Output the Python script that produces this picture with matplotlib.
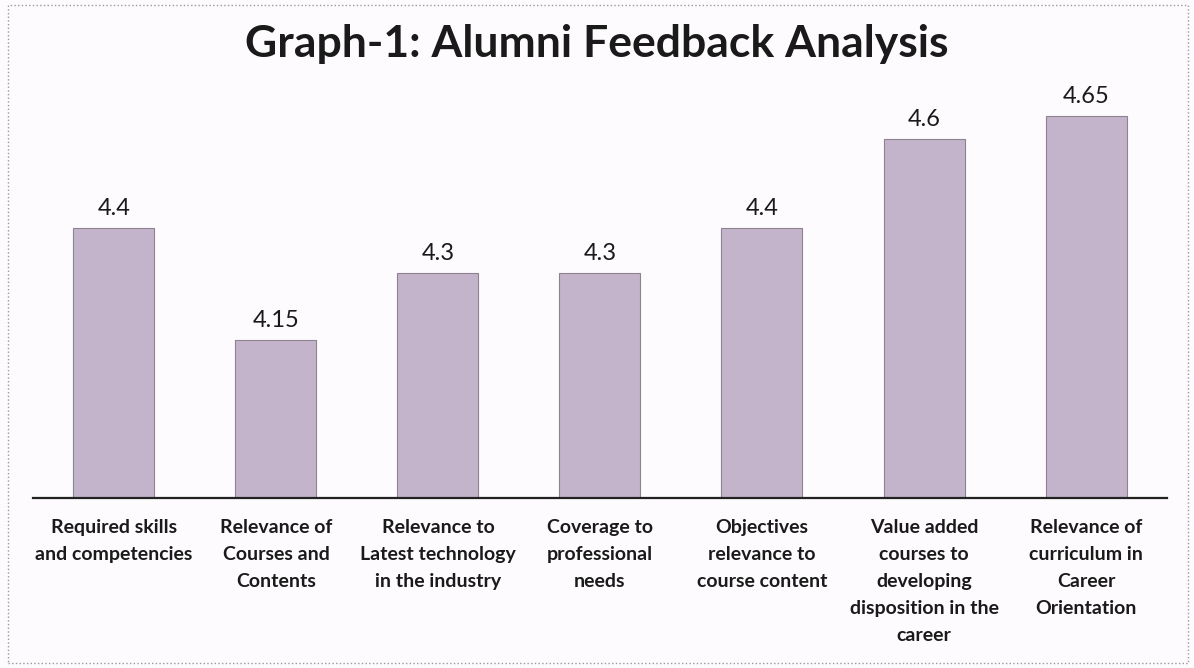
import matplotlib.pyplot as plt
from matplotlib.patches import Rectangle

# Dati
categories = [
    'Required skills\nand competencies',
    'Relevance of\nCourses and\nContents',
    'Relevance to\nLatest technology\nin the industry',
    'Coverage to\nprofessional\nneeds',
    'Objectives\nrelevance to\ncourse content',
    'Value added\ncourses to\ndeveloping\ndisposition in the\ncareer',
    'Relevance of\ncurriculum in\nCareer\nOrientation',
]
scores = [4.4, 4.15, 4.3, 4.3, 4.4, 4.6, 4.65]
score_labels = ['4.4', '4.15', '4.3', '4.3', '4.4', '4.6', '4.65']

plt.rcParams['font.family'] = ['Lato', 'DejaVu Sans']

fig = plt.figure(figsize=(11.94, 6.68), dpi=100)
fig.patch.set_facecolor('#fdfbfd')

# Cornice
fig.patches.append(Rectangle((0.007, 0.008), 0.988, 0.984, transform=fig.transFigure,
                             fill=False, edgecolor='#9a9a9a', linewidth=1, linestyle=':'))

ax = fig.add_axes([0.0276, 0.2545, 0.9498, 0.611])
ax.set_facecolor('#fdfbfd')

x = range(len(categories))
ax.bar(x, scores, width=0.5, bottom=0, color='#c4b4cb', edgecolor='#8c8290', linewidth=0.8)

for i, (v, lab) in enumerate(zip(scores, score_labels)):
    ax.text(i, v + 0.02, lab, ha='center', va='bottom', fontsize=17, color='#1a1a1a')

ax.set_xlim(-0.5, 6.5)
ax.set_ylim(3.798, 4.709)

for s in ['top', 'right', 'left']:
    ax.spines[s].set_visible(False)
ax.spines['bottom'].set_linewidth(1.6)
ax.spines['bottom'].set_color('#222222')
ax.set_yticks([])
ax.set_xticks(list(x))
ax.set_xticklabels(categories, fontsize=14, fontweight='bold', color='#1a1a1a', linespacing=1.72)
ax.tick_params(axis='x', length=0, pad=15)

fig.text(0.5, 0.934, 'Graph-1: Alumni Feedback Analysis', ha='center', va='center',
         fontsize=32, fontweight='bold', color='#1a1a1a')

plt.savefig('out.png', dpi=100, facecolor=fig.get_facecolor())
